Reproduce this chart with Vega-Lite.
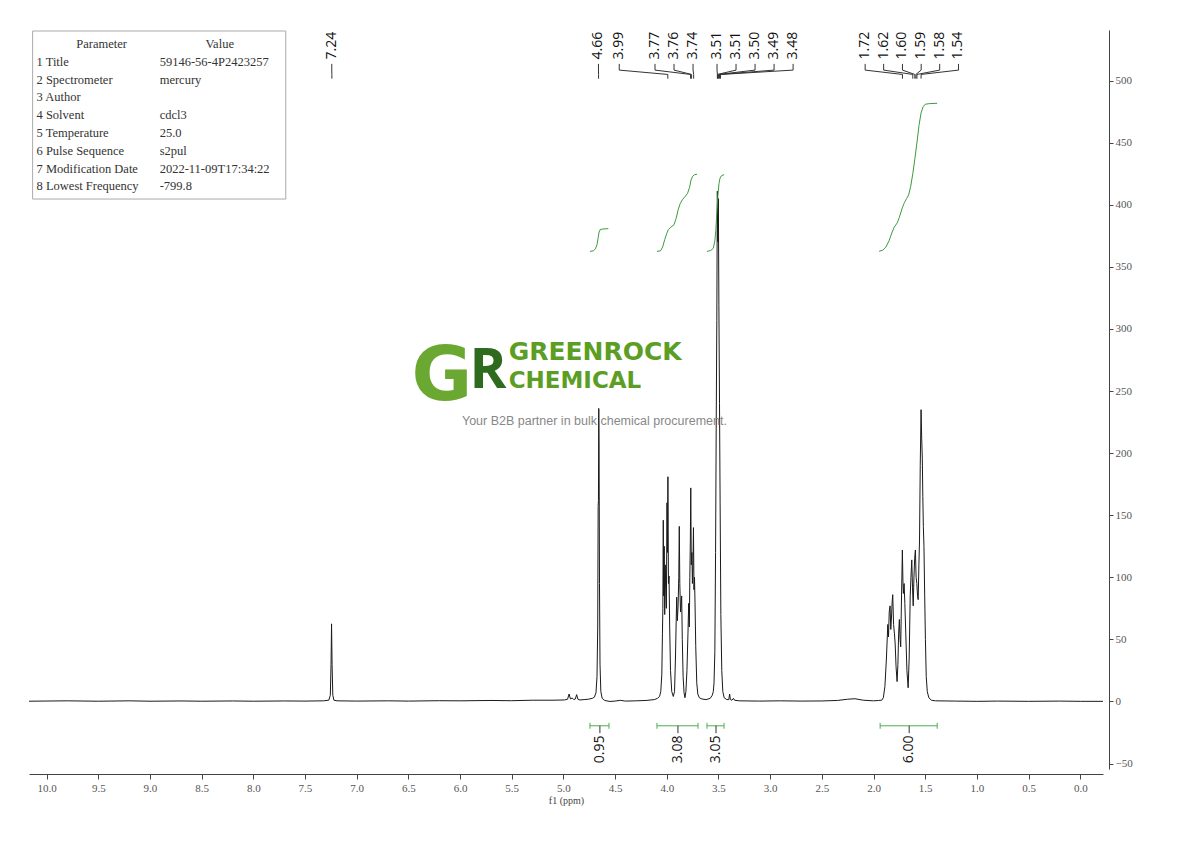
{
  "$schema": "https://vega.github.io/schema/vega-lite/v6.json",
  "width": 1074,
  "height": 739,
  "autosize": {"type": "none"},
  "padding": {"left": 29, "top": 30, "right": 87, "bottom": 72},
  "background": "white",
  "config": {"view": {"stroke": null}, "font": "Open Sans"},
  "datasets": {
    "spec": [
      {"ppm":10.17,"intensity":0.2},{"ppm":9.8,"intensity":0.5},{"ppm":9.5,"intensity":0.2},{"ppm":9.2,"intensity":0.5},{"ppm":9.0,"intensity":0.2},{"ppm":8.7,"intensity":0.4},{"ppm":8.5,"intensity":0.2},{"ppm":8.2,"intensity":0.4},{"ppm":8.0,"intensity":0.2},{"ppm":7.7,"intensity":0.4},{"ppm":7.5,"intensity":0.3},{"ppm":7.32,"intensity":0.5},{"ppm":7.27,"intensity":1},{"ppm":7.255,"intensity":5},{"ppm":7.248,"intensity":30},{"ppm":7.243,"intensity":62.5},{"ppm":7.238,"intensity":30},{"ppm":7.231,"intensity":5},{"ppm":7.22,"intensity":1},{"ppm":7.19,"intensity":0.5},{"ppm":7.0,"intensity":0.3},{"ppm":6.7,"intensity":0.5},{"ppm":6.5,"intensity":0.3},{"ppm":6.2,"intensity":0.6},{"ppm":6.0,"intensity":0.5},{"ppm":5.7,"intensity":0.8},{"ppm":5.5,"intensity":0.6},{"ppm":5.3,"intensity":1},{"ppm":5.1,"intensity":1},{"ppm":4.99,"intensity":1.2},{"ppm":4.96,"intensity":1.8},{"ppm":4.945,"intensity":6},{"ppm":4.932,"intensity":2},{"ppm":4.915,"intensity":2.8},{"ppm":4.9,"intensity":1.5},{"ppm":4.885,"intensity":2},{"ppm":4.872,"intensity":5.5},{"ppm":4.86,"intensity":1.8},{"ppm":4.84,"intensity":1.2},{"ppm":4.8,"intensity":1.5},{"ppm":4.76,"intensity":1.8},{"ppm":4.72,"intensity":2.5},{"ppm":4.7,"intensity":3.5},{"ppm":4.685,"intensity":7},{"ppm":4.675,"intensity":20},{"ppm":4.668,"intensity":60},{"ppm":4.664,"intensity":157},{"ppm":4.661,"intensity":162},{"ppm":4.658,"intensity":236},{"ppm":4.655,"intensity":205},{"ppm":4.651,"intensity":95},{"ppm":4.646,"intensity":30},{"ppm":4.638,"intensity":8},{"ppm":4.625,"intensity":2.5},{"ppm":4.6,"intensity":0.8},{"ppm":4.55,"intensity":0},{"ppm":4.5,"intensity":0.3},{"ppm":4.45,"intensity":0.9},{"ppm":4.4,"intensity":0.3},{"ppm":4.3,"intensity":0.5},{"ppm":4.2,"intensity":0.8},{"ppm":4.12,"intensity":1.5},{"ppm":4.09,"intensity":2.5},{"ppm":4.07,"intensity":4},{"ppm":4.058,"intensity":8},{"ppm":4.048,"intensity":22},{"ppm":4.042,"intensity":55},{"ppm":4.038,"intensity":75},{"ppm":4.034,"intensity":146},{"ppm":4.03,"intensity":85},{"ppm":4.025,"intensity":125},{"ppm":4.02,"intensity":70},{"ppm":4.015,"intensity":110},{"ppm":4.01,"intensity":90},{"ppm":4.004,"intensity":75},{"ppm":3.998,"intensity":160},{"ppm":3.993,"intensity":120},{"ppm":3.989,"intensity":181},{"ppm":3.984,"intensity":95},{"ppm":3.978,"intensity":101},{"ppm":3.972,"intensity":60},{"ppm":3.964,"intensity":25},{"ppm":3.952,"intensity":8},{"ppm":3.937,"intensity":4},{"ppm":3.925,"intensity":8},{"ppm":3.916,"intensity":35},{"ppm":3.909,"intensity":65},{"ppm":3.904,"intensity":84},{"ppm":3.898,"intensity":65},{"ppm":3.891,"intensity":76},{"ppm":3.884,"intensity":100},{"ppm":3.879,"intensity":141},{"ppm":3.874,"intensity":95},{"ppm":3.867,"intensity":72},{"ppm":3.861,"intensity":78},{"ppm":3.856,"intensity":85},{"ppm":3.85,"intensity":50},{"ppm":3.842,"intensity":20},{"ppm":3.833,"intensity":7},{"ppm":3.824,"intensity":3},{"ppm":3.815,"intensity":8},{"ppm":3.805,"intensity":25},{"ppm":3.795,"intensity":55},{"ppm":3.788,"intensity":79},{"ppm":3.782,"intensity":60},{"ppm":3.777,"intensity":100},{"ppm":3.772,"intensity":130},{"ppm":3.768,"intensity":172},{"ppm":3.763,"intensity":110},{"ppm":3.757,"intensity":120},{"ppm":3.752,"intensity":95},{"ppm":3.747,"intensity":110},{"ppm":3.742,"intensity":140},{"ppm":3.737,"intensity":90},{"ppm":3.732,"intensity":100},{"ppm":3.727,"intensity":80},{"ppm":3.72,"intensity":45},{"ppm":3.71,"intensity":15},{"ppm":3.7,"intensity":6},{"ppm":3.685,"intensity":3},{"ppm":3.66,"intensity":2},{"ppm":3.62,"intensity":1.5},{"ppm":3.58,"intensity":2.5},{"ppm":3.56,"intensity":5},{"ppm":3.55,"intensity":8},{"ppm":3.543,"intensity":15},{"ppm":3.535,"intensity":40},{"ppm":3.528,"intensity":120},{"ppm":3.522,"intensity":220},{"ppm":3.516,"intensity":307},{"ppm":3.511,"intensity":411},{"ppm":3.506,"intensity":370},{"ppm":3.501,"intensity":405},{"ppm":3.496,"intensity":320},{"ppm":3.49,"intensity":240},{"ppm":3.484,"intensity":160},{"ppm":3.477,"intensity":70},{"ppm":3.468,"intensity":25},{"ppm":3.458,"intensity":8},{"ppm":3.445,"intensity":3},{"ppm":3.42,"intensity":1.5},{"ppm":3.4,"intensity":1.5},{"ppm":3.392,"intensity":6},{"ppm":3.385,"intensity":1.5},{"ppm":3.37,"intensity":1},{"ppm":3.355,"intensity":2.5},{"ppm":3.345,"intensity":1},{"ppm":3.3,"intensity":0.5},{"ppm":3.1,"intensity":0.3},{"ppm":2.9,"intensity":0.5},{"ppm":2.7,"intensity":0.3},{"ppm":2.5,"intensity":0.4},{"ppm":2.35,"intensity":0.8},{"ppm":2.25,"intensity":1.8},{"ppm":2.18,"intensity":2.2},{"ppm":2.1,"intensity":1},{"ppm":2.0,"intensity":0.5},{"ppm":1.95,"intensity":0.8},{"ppm":1.92,"intensity":1},{"ppm":1.905,"intensity":3},{"ppm":1.89,"intensity":12},{"ppm":1.875,"intensity":35},{"ppm":1.862,"intensity":62},{"ppm":1.855,"intensity":52},{"ppm":1.848,"intensity":72},{"ppm":1.84,"intensity":77},{"ppm":1.833,"intensity":58},{"ppm":1.826,"intensity":68},{"ppm":1.82,"intensity":80},{"ppm":1.814,"intensity":86},{"ppm":1.806,"intensity":62},{"ppm":1.798,"intensity":55},{"ppm":1.791,"intensity":47},{"ppm":1.782,"intensity":28},{"ppm":1.772,"intensity":16},{"ppm":1.764,"intensity":30},{"ppm":1.757,"intensity":55},{"ppm":1.75,"intensity":66},{"ppm":1.743,"intensity":50},{"ppm":1.737,"intensity":44},{"ppm":1.729,"intensity":85},{"ppm":1.721,"intensity":122},{"ppm":1.715,"intensity":95},{"ppm":1.711,"intensity":87},{"ppm":1.704,"intensity":95},{"ppm":1.697,"intensity":79},{"ppm":1.688,"intensity":55},{"ppm":1.677,"intensity":25},{"ppm":1.665,"intensity":11},{"ppm":1.655,"intensity":35},{"ppm":1.645,"intensity":85},{"ppm":1.638,"intensity":100},{"ppm":1.63,"intensity":114},{"ppm":1.623,"intensity":92},{"ppm":1.616,"intensity":77},{"ppm":1.609,"intensity":100},{"ppm":1.602,"intensity":115},{"ppm":1.595,"intensity":122},{"ppm":1.588,"intensity":100},{"ppm":1.581,"intensity":95},{"ppm":1.574,"intensity":85},{"ppm":1.568,"intensity":82},{"ppm":1.561,"intensity":110},{"ppm":1.555,"intensity":130},{"ppm":1.548,"intensity":190},{"ppm":1.54,"intensity":235},{"ppm":1.534,"intensity":212},{"ppm":1.528,"intensity":196},{"ppm":1.523,"intensity":165},{"ppm":1.518,"intensity":141},{"ppm":1.512,"intensity":125},{"ppm":1.505,"intensity":85},{"ppm":1.498,"intensity":50},{"ppm":1.49,"intensity":20},{"ppm":1.48,"intensity":8},{"ppm":1.465,"intensity":3},{"ppm":1.44,"intensity":1},{"ppm":1.4,"intensity":0.5},{"ppm":1.2,"intensity":0.3},{"ppm":1.0,"intensity":0.1},{"ppm":0.8,"intensity":0.3},{"ppm":0.5,"intensity":0.1},{"ppm":0.2,"intensity":0.3},{"ppm":0.0,"intensity":0.1},{"ppm":-0.22,"intensity":0.1}
    ],
    "integ": [
      {"g":1,"ppm":4.743,"v":362.5},{"g":1,"ppm":4.71,"v":363},{"g":1,"ppm":4.69,"v":364.5},{"g":1,"ppm":4.675,"v":368},{"g":1,"ppm":4.665,"v":373},{"g":1,"ppm":4.655,"v":378},{"g":1,"ppm":4.645,"v":380},{"g":1,"ppm":4.62,"v":380.5},{"g":1,"ppm":4.566,"v":380.8},
      {"g":2,"ppm":4.095,"v":362.5},{"g":2,"ppm":4.06,"v":363},{"g":2,"ppm":4.04,"v":366},{"g":2,"ppm":4.02,"v":372},{"g":2,"ppm":4.0,"v":377},{"g":2,"ppm":3.985,"v":380},{"g":2,"ppm":3.96,"v":382},{"g":2,"ppm":3.93,"v":384},{"g":2,"ppm":3.91,"v":389},{"g":2,"ppm":3.89,"v":396},{"g":2,"ppm":3.87,"v":401},{"g":2,"ppm":3.85,"v":404},{"g":2,"ppm":3.83,"v":406},{"g":2,"ppm":3.8,"v":409},{"g":2,"ppm":3.78,"v":414},{"g":2,"ppm":3.765,"v":420},{"g":2,"ppm":3.75,"v":423},{"g":2,"ppm":3.73,"v":424.3},{"g":2,"ppm":3.707,"v":424.6},
      {"g":3,"ppm":3.611,"v":362.5},{"g":3,"ppm":3.575,"v":363.2},{"g":3,"ppm":3.55,"v":365},{"g":3,"ppm":3.535,"v":371},{"g":3,"ppm":3.525,"v":380},{"g":3,"ppm":3.515,"v":395},{"g":3,"ppm":3.505,"v":408},{"g":3,"ppm":3.495,"v":417},{"g":3,"ppm":3.485,"v":421.5},{"g":3,"ppm":3.47,"v":423.5},{"g":3,"ppm":3.446,"v":424.3},
      {"g":4,"ppm":1.946,"v":362.5},{"g":4,"ppm":1.91,"v":363.5},{"g":4,"ppm":1.88,"v":366},{"g":4,"ppm":1.85,"v":371},{"g":4,"ppm":1.82,"v":378},{"g":4,"ppm":1.8,"v":382},{"g":4,"ppm":1.77,"v":385.5},{"g":4,"ppm":1.75,"v":390},{"g":4,"ppm":1.72,"v":398},{"g":4,"ppm":1.7,"v":402},{"g":4,"ppm":1.68,"v":405},{"g":4,"ppm":1.66,"v":408},{"g":4,"ppm":1.64,"v":415},{"g":4,"ppm":1.62,"v":425},{"g":4,"ppm":1.6,"v":437},{"g":4,"ppm":1.58,"v":450},{"g":4,"ppm":1.56,"v":464},{"g":4,"ppm":1.54,"v":474},{"g":4,"ppm":1.52,"v":479},{"g":4,"ppm":1.5,"v":481},{"g":4,"ppm":1.46,"v":481.5},{"g":4,"ppm":1.384,"v":481.8}
    ],
    "brackets": [
      {"t":"0.95","a":4.743,"b":4.559,"c":4.647},
      {"t":"3.08","a":4.095,"b":3.698,"c":3.892},
      {"t":"3.05","a":3.611,"b":3.446,"c":3.524},
      {"t":"6.00","a":1.936,"b":1.384,"c":1.655}
    ],
    "peaks": [
      {"t":"7.24","lx":7.241,"pk":7.24},
      {"t":"4.66","lx":4.661,"pk":4.66},
      {"t":"3.99","lx":4.46,"pk":3.99},
      {"t":"3.77","lx":4.114,"pk":3.77},
      {"t":"3.76","lx":3.93,"pk":3.76},
      {"t":"3.74","lx":3.746,"pk":3.74},
      {"t":"3.51","lx":3.514,"pk":3.51},
      {"t":"3.51","lx":3.33,"pk":3.51},
      {"t":"3.50","lx":3.146,"pk":3.5},
      {"t":"3.49","lx":2.962,"pk":3.49},
      {"t":"3.48","lx":2.778,"pk":3.48},
      {"t":"1.72","lx":2.081,"pk":1.72},
      {"t":"1.62","lx":1.902,"pk":1.62},
      {"t":"1.60","lx":1.72,"pk":1.6},
      {"t":"1.59","lx":1.539,"pk":1.59},
      {"t":"1.58","lx":1.36,"pk":1.58},
      {"t":"1.54","lx":1.178,"pk":1.54}
    ],
    "tablehead": [{"i":0,"p":"Parameter","v":"Value"}],
    "tablerows": [
      {"i":1,"p":"1 Title","v":"59146-56-4P2423257"},
      {"i":2,"p":"2 Spectrometer","v":"mercury"},
      {"i":3,"p":"3 Author","v":""},
      {"i":4,"p":"4 Solvent","v":"cdcl3"},
      {"i":5,"p":"5 Temperature","v":"25.0"},
      {"i":6,"p":"6 Pulse Sequence","v":"s2pul"},
      {"i":7,"p":"7 Modification Date","v":"2022-11-09T17:34:22"},
      {"i":8,"p":"8 Lowest Frequency","v":"-799.8"}
    ]
  },
  "layer": [
    {
      "layer": [
        {
          "data": {"name": "spec"},
          "mark": {"type": "line", "color": "#1a1a1a", "strokeWidth": 1, "interpolate": "linear"},
          "encoding": {
            "x": {
              "field": "ppm", "type": "quantitative",
              "scale": {"domain": [-0.22, 10.17], "reverse": true, "nice": false, "zero": false},
              "axis": {
                "orient": "bottom", "offset": 5,
                "values": [0,0.25,0.5,0.75,1,1.25,1.5,1.75,2,2.25,2.5,2.75,3,3.25,3.5,3.75,4,4.25,4.5,4.75,5,5.25,5.5,5.75,6,6.25,6.5,6.75,7,7.25,7.5,7.75,8,8.25,8.5,8.75,9,9.25,9.5,9.75,10],
                "labelExpr": "abs(datum.value*2-round(datum.value*2))<0.001 ? format(datum.value,'.1f') : ''",
                "tickSize": 5,
                "tickColor": "#444444", "domainColor": "#444444", "tickWidth": 1, "domainWidth": 1,
                "labelFont": "Liberation Serif", "labelFontSize": 11, "labelColor": "#555555", "labelPadding": 3,
                "labelOverlap": false, "labelFlush": false, "labelBound": false, "grid": false,
                "title": "f1 (ppm)", "titleFont": "Liberation Serif", "titleFontSize": 10, "titleFontWeight": "normal", "titleColor": "#444444", "titlePadding": 2
              }
            },
            "y": {
              "field": "intensity", "type": "quantitative",
              "scale": {"domain": [-54.4, 540.8], "nice": false, "zero": false},
              "axis": {
                "orient": "right", "offset": 6,
                "values": [-50,-25,0,25,50,75,100,125,150,175,200,225,250,275,300,325,350,375,400,425,450,475,500,525],
                "labelExpr": "datum.value % 50 == 0 ? datum.label : ''",
                "tickSize": 4,
                "tickColor": "#444444", "domainColor": "#444444", "tickWidth": 1, "domainWidth": 1,
                "labelFont": "Liberation Serif", "labelFontSize": 11, "labelColor": "#555555", "labelPadding": 2,
                "labelOverlap": false, "labelFlush": false, "labelBound": false, "grid": false, "title": null
              }
            }
          }
        },
        {
          "data": {"values": [{}]},
          "mark": {"type": "text", "text": "G", "align": "center", "baseline": "alphabetic", "font": "DejaVu Sans", "fontWeight": "bold", "fontSize": 74, "color": "#6aa832"},
          "encoding": {
            "x": {"datum": 6.176, "type": "quantitative"},
            "y": {"datum": 242.9, "type": "quantitative"}
          }
        },
        {
          "data": {"values": [{}]},
          "mark": {"type": "text", "text": "R", "align": "center", "baseline": "alphabetic", "font": "Open Sans", "fontWeight": "bold", "fontSize": 56, "color": "#2e6b1e"},
          "encoding": {
            "x": {"datum": 5.73, "type": "quantitative"},
            "y": {"datum": 252.5, "type": "quantitative"}
          }
        },
        {
          "data": {"values": [{}]},
          "mark": {"type": "text", "text": "GREENROCK", "align": "left", "baseline": "alphabetic", "font": "DejaVu Sans", "fontWeight": "bold", "fontSize": 25, "color": "#5c9e23"},
          "encoding": {
            "x": {"datum": 5.53, "type": "quantitative"},
            "y": {"datum": 275.1, "type": "quantitative"}
          }
        },
        {
          "data": {"values": [{}]},
          "mark": {"type": "text", "text": "CHEMICAL", "align": "left", "baseline": "alphabetic", "font": "DejaVu Sans", "fontWeight": "bold", "fontSize": 23, "color": "#5c9e23"},
          "encoding": {
            "x": {"datum": 5.53, "type": "quantitative"},
            "y": {"datum": 252.6, "type": "quantitative"}
          }
        },
        {
          "data": {"values": [{}]},
          "mark": {"type": "text", "text": "Your B2B partner in bulk chemical procurement.", "align": "center", "baseline": "middle", "font": "Liberation Sans", "fontSize": 12.5, "color": "#888888"},
          "encoding": {
            "x": {"datum": 4.7, "type": "quantitative"},
            "y": {"datum": 225.9, "type": "quantitative"}
          }
        },
        {
          "data": {"name": "integ"},
          "mark": {"type": "line", "color": "#3d9a3d", "strokeWidth": 1},
          "encoding": {
            "x": {"field": "ppm", "type": "quantitative"},
            "y": {"field": "v", "type": "quantitative"},
            "detail": {"field": "g", "type": "nominal"}
          }
        },
        {
          "data": {"name": "brackets"},
          "mark": {"type": "rule", "color": "#4caf50", "strokeWidth": 1},
          "encoding": {
            "x": {"field": "a", "type": "quantitative"},
            "x2": {"field": "b"},
            "y": {"datum": -19.6, "type": "quantitative"}
          }
        },
        {
          "data": {"name": "brackets"},
          "mark": {"type": "rule", "color": "#4caf50", "strokeWidth": 1},
          "encoding": {
            "x": {"field": "a", "type": "quantitative"},
            "y": {"datum": -17.2, "type": "quantitative"},
            "y2": {"datum": -22}
          }
        },
        {
          "data": {"name": "brackets"},
          "mark": {"type": "rule", "color": "#4caf50", "strokeWidth": 1},
          "encoding": {
            "x": {"field": "b", "type": "quantitative"},
            "y": {"datum": -17.2, "type": "quantitative"},
            "y2": {"datum": -22}
          }
        },
        {
          "data": {"name": "brackets"},
          "mark": {"type": "rule", "color": "#333333", "strokeWidth": 1},
          "encoding": {
            "x": {"field": "c", "type": "quantitative"},
            "y": {"datum": -19.6, "type": "quantitative"},
            "y2": {"datum": -25.5}
          }
        },
        {
          "data": {"name": "brackets"},
          "mark": {"type": "text", "angle": 270, "align": "right", "baseline": "middle", "font": "Open Sans", "fontSize": 14, "color": "#111111"},
          "encoding": {
            "x": {"field": "c", "type": "quantitative"},
            "y": {"datum": -27.5, "type": "quantitative"},
            "text": {"field": "t"}
          }
        },
        {
          "data": {"name": "peaks"},
          "mark": {"type": "rule", "color": "#333333", "strokeWidth": 1},
          "encoding": {
            "x": {"field": "lx", "type": "quantitative"},
            "y": {"datum": 513.5, "type": "quantitative"},
            "y2": {"datum": 508.5}
          }
        },
        {
          "data": {"name": "peaks"},
          "mark": {"type": "rule", "color": "#333333", "strokeWidth": 1},
          "encoding": {
            "x": {"field": "lx", "type": "quantitative"},
            "y": {"datum": 508.5, "type": "quantitative"},
            "x2": {"field": "pk"},
            "y2": {"datum": 505}
          }
        },
        {
          "data": {"name": "peaks"},
          "mark": {"type": "rule", "color": "#333333", "strokeWidth": 1},
          "encoding": {
            "x": {"field": "pk", "type": "quantitative"},
            "y": {"datum": 505, "type": "quantitative"},
            "y2": {"datum": 501.6}
          }
        },
        {
          "data": {"name": "peaks"},
          "mark": {"type": "text", "angle": 270, "align": "left", "baseline": "middle", "font": "Open Sans", "fontSize": 14, "color": "#111111"},
          "encoding": {
            "x": {"field": "lx", "type": "quantitative"},
            "y": {"datum": 517, "type": "quantitative"},
            "text": {"field": "t"}
          }
        }
      ]
    },
    {
      "layer": [
        {
          "data": {"values": [{}]},
          "mark": {"type": "rect", "fill": "white", "stroke": "#aaaaaa", "strokeWidth": 1},
          "encoding": {
            "x": {"datum": 10.135, "type": "quantitative"},
            "x2": {"datum": 7.686},
            "y": {"datum": -0.73, "type": "quantitative", "scale": {"domain": [-0.787, 40.73], "reverse": true, "nice": false, "zero": false}, "axis": null},
            "y2": {"datum": 8.71}
          }
        },
        {
          "data": {"name": "tablehead"},
          "mark": {"type": "text", "align": "center", "baseline": "middle", "font": "Liberation Serif", "fontSize": 12.5, "color": "#333333"},
          "encoding": {
            "x": {"datum": 9.468, "type": "quantitative"},
            "y": {"field": "i", "type": "quantitative", "scale": {"domain": [-0.787, 40.73], "reverse": true, "nice": false, "zero": false}, "axis": null},
            "text": {"field": "p"}
          }
        },
        {
          "data": {"name": "tablehead"},
          "mark": {"type": "text", "align": "center", "baseline": "middle", "font": "Liberation Serif", "fontSize": 12.5, "color": "#333333"},
          "encoding": {
            "x": {"datum": 8.325, "type": "quantitative"},
            "y": {"field": "i", "type": "quantitative", "scale": {"domain": [-0.787, 40.73], "reverse": true, "nice": false, "zero": false}, "axis": null},
            "text": {"field": "v"}
          }
        },
        {
          "data": {"name": "tablerows"},
          "mark": {"type": "text", "align": "left", "baseline": "middle", "font": "Liberation Serif", "fontSize": 12.5, "color": "#333333"},
          "encoding": {
            "x": {"datum": 10.097, "type": "quantitative"},
            "y": {"field": "i", "type": "quantitative", "scale": {"domain": [-0.787, 40.73], "reverse": true, "nice": false, "zero": false}, "axis": null},
            "text": {"field": "p"}
          }
        },
        {
          "data": {"name": "tablerows"},
          "mark": {"type": "text", "align": "left", "baseline": "middle", "font": "Liberation Serif", "fontSize": 12.5, "color": "#333333"},
          "encoding": {
            "x": {"datum": 8.906, "type": "quantitative"},
            "y": {"field": "i", "type": "quantitative", "scale": {"domain": [-0.787, 40.73], "reverse": true, "nice": false, "zero": false}, "axis": null},
            "text": {"field": "v"}
          }
        }
      ]
    }
  ],
  "resolve": {"scale": {"y": "independent"}}
}
